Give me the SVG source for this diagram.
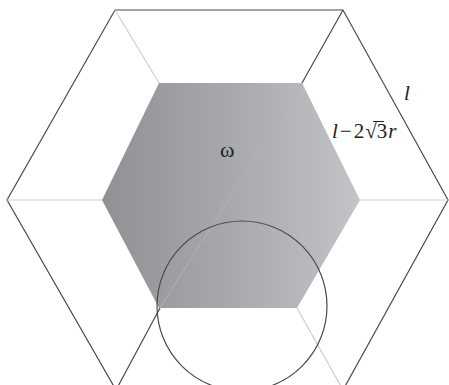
<svg xmlns="http://www.w3.org/2000/svg" width="449" height="385" viewBox="0 0 449 385">
<defs>
<linearGradient id="g" x1="0" y1="0" x2="1" y2="0">
<stop offset="0" stop-color="#909194"/>
<stop offset="0.5" stop-color="#a8a9ac"/>
<stop offset="1" stop-color="#c2c4c7"/>
</linearGradient>
<style>
.dark{fill:none;stroke:#4a4a4a;stroke-width:1.2}
.light{fill:none;stroke:#cfcfcf;stroke-width:1.2}
.t{font-family:"Liberation Serif",serif;fill:#222}
</style>
</defs>
<rect width="449" height="385" fill="#fff"/>
<g id="outer">
<polygon class="dark" points="115,10 343,10 448,200 343,390 116,390 7,200"/>
</g>
<g id="inner">
<polygon points="159,83 302,83 360,200 297,308 159,308 102,200" fill="url(#g)"/>
</g>
<g id="connectors">
<line class="light" x1="115" y1="10" x2="159" y2="83"/>
<line class="light" x1="7" y1="200" x2="102" y2="200"/>
<line class="light" x1="360" y1="200" x2="448" y2="200"/>
<line class="light" x1="297" y1="308" x2="343" y2="390"/>
<line class="dark" x1="302" y1="83" x2="343" y2="10"/>
<line class="dark" x1="160" y1="308" x2="116" y2="390"/>
<line x1="160" y1="308" x2="302" y2="83" stroke="#b0b2b5" stroke-width="1"/>
</g>
<g id="circle">
<circle class="dark" cx="242" cy="306" r="85"/>
</g>
<g id="labels">
<text class="t" x="220" y="157" font-size="22">ω</text>
<text class="t" x="404" y="100" font-size="21" font-style="italic">l</text>
<text class="t" x="332" y="138" font-size="21"><tspan font-style="italic">l</tspan><tspan dx="2">−</tspan><tspan dx="2">2</tspan><tspan dx="1">√</tspan><tspan>3</tspan><tspan dx="1" font-style="italic">r</tspan></text>
<line x1="373" y1="121.5" x2="384" y2="121.5" stroke="#222" stroke-width="1"/>
</g>
</svg>
